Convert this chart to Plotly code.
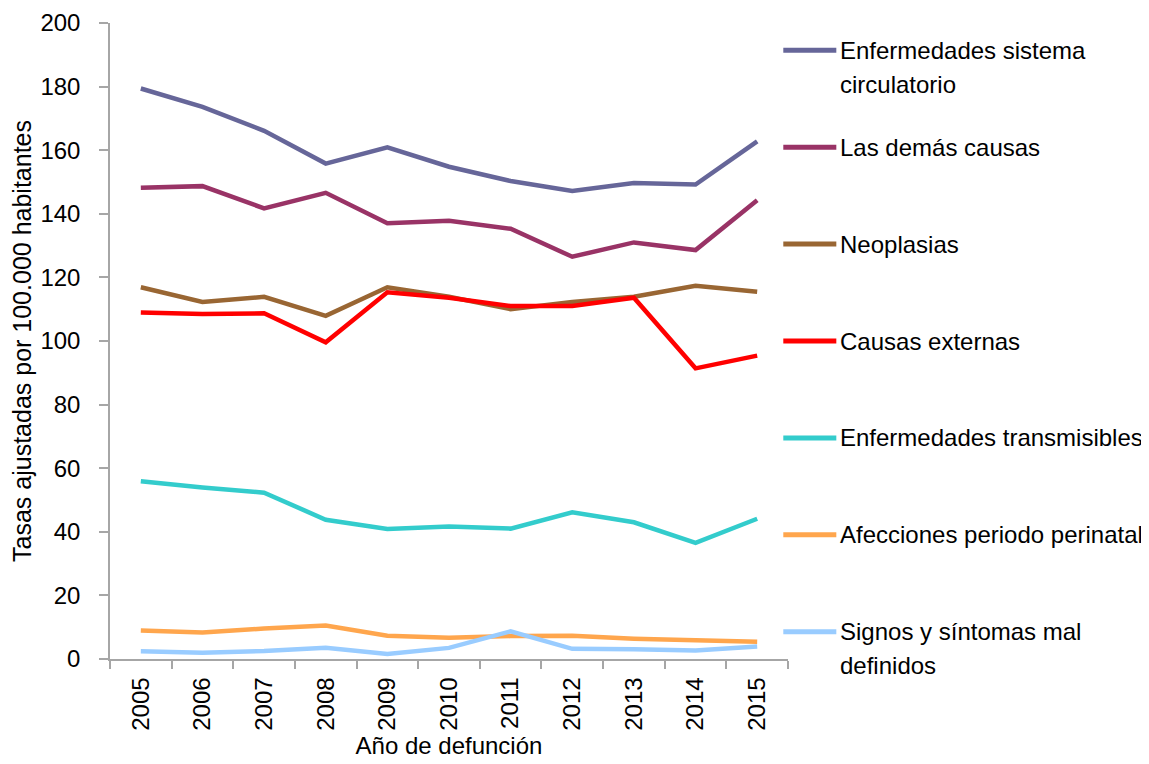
import plotly.graph_objects as go

years = ["2005", "2006", "2007", "2008", "2009", "2010", "2011", "2012", "2013", "2014", "2015"]

circulatorio = [179.4, 173.6, 166.1, 155.8, 160.9, 154.8, 150.3, 147.2, 149.7, 149.2, 162.8]
demas_causas = [148.2, 148.7, 141.7, 146.6, 137.0, 137.8, 135.3, 126.5, 131.0, 128.6, 144.3]
neoplasias = [116.9, 112.3, 113.9, 107.9, 116.9, 113.9, 110.0, 112.3, 113.9, 117.4, 115.5]
causas_externas = [109.0, 108.5, 108.7, 99.6, 115.3, 113.6, 111.0, 111.0, 113.6, 91.4, 95.4]
transmisibles = [55.9, 53.9, 52.3, 43.8, 40.9, 41.7, 41.0, 46.1, 43.0, 36.5, 44.1]
perinatal = [9.0, 8.3, 9.6, 10.5, 7.3, 6.7, 7.2, 7.3, 6.4, 5.8, 5.4]
signos = [2.4, 2.0, 2.5, 3.5, 1.6, 3.5, 8.7, 3.2, 3.1, 2.7, 3.9]

names = [
    "Enfermedades sistema<br>circulatorio",
    "Las demás causas",
    "Neoplasias",
    "Causas externas",
    "Enfermedades transmisibles",
    "Afecciones periodo perinatal",
    "Signos y síntomas mal<br>definidos",
]
series = [circulatorio, demas_causas, neoplasias, causas_externas, transmisibles, perinatal, signos]
colors = ["#666699", "#993366", "#996633", "#FF0000", "#33CCCC", "#FFA64D", "#99CCFF"]

FONT = "Liberation Sans, Arial, sans-serif"
FS = 24

OFF = 8  # page body margin
W, H = 1149 - OFF, 764 - OFF
PL, PR, PT, PB = 110, 787.7, 22.7, 659.3  # plot area in page pixels
L, T = PL - OFF, PT - OFF
R, B = 1149 - PR, 764 - PB
pw, ph = PR - PL, PB - PT

def px(x):
    return (x - PL) / pw

def py(y):
    return (PB - y) / ph

fig = go.Figure()
for name, vals, col in zip(names, series, colors):
    fig.add_trace(go.Scatter(x=years, y=vals, mode="lines", name=name.replace("<br>", " "),
                             line=dict(color=col, width=4.5), showlegend=False))

# manual legend (keys 55px long, ~97px apart, 34px line spacing)
leg_y = [50, 147, 244, 341, 438, 535, 632]
shapes, annotations = [], []
for name, col, ly in zip(names, colors, leg_y):
    shapes.append(dict(type="line", xref="paper", yref="paper",
                       x0=px(783), x1=px(836), y0=py(ly), y1=py(ly),
                       line=dict(color=col, width=5)))
    for k, part in enumerate(name.split("<br>")):
        annotations.append(dict(xref="paper", yref="paper", x=px(838),
                                y=py(ly + 34 * k), xanchor="left", yanchor="middle",
                                text=part, showarrow=False, align="left",
                                font=dict(size=FS, color="#000000", family=FONT)))

fig.update_layout(
    width=W, height=H,
    margin=dict(l=L, r=R, t=T, b=B, pad=0),
    plot_bgcolor="white", paper_bgcolor="white",
    font=dict(family=FONT, size=FS, color="#000000"),
    shapes=shapes, annotations=annotations,
    xaxis=dict(type="category", range=[-0.5, 10.5], tickson="boundaries", tickangle=-90,
               automargin=False,
               showline=True, linecolor="#A6A6A6", linewidth=1.5,
               ticks="outside", ticklen=8, tickcolor="#A6A6A6", tickwidth=1.5,
               ticklabelstandoff=7,
               showgrid=False, zeroline=False,
               tickfont=dict(size=FS, family=FONT),
               title=dict(text="Año de defunción", standoff=7,
                          font=dict(size=FS, family=FONT))),
    yaxis=dict(range=[0, 200], dtick=20, showline=True, linecolor="#A6A6A6",
               automargin=False,
               linewidth=1.5, ticks="outside", ticklen=9, tickcolor="#A6A6A6",
               tickwidth=1.5, showgrid=False, zeroline=False,
               ticklabelstandoff=14,
               tickfont=dict(size=FS, family=FONT),
               title=dict(text="Tasas ajustadas por 100.000 habitantes", standoff=8,
                          font=dict(size=25, family=FONT))),
)

fig.write_html("out.html")
